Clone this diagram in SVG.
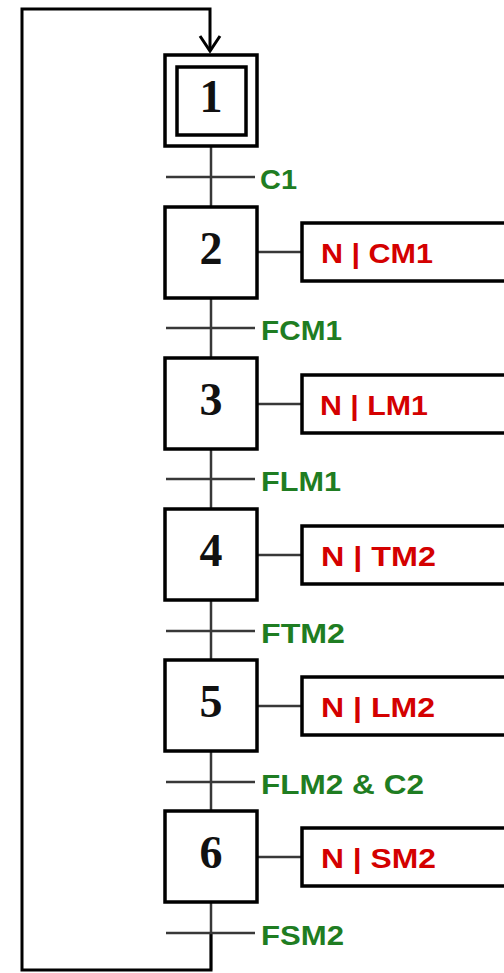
<svg xmlns="http://www.w3.org/2000/svg" width="504" height="973" viewBox="0 0 504 973">
  <style>
    .box { fill: #fff; stroke: #000; stroke-width: 3.5; }
    .num { font-family: "Liberation Serif", "Times New Roman", serif; font-weight: bold; font-size: 46px; text-anchor: middle; fill: #111; }
    .link { stroke: #383838; stroke-width: 2.5; fill: none; }
    .bar { stroke: #383838; stroke-width: 2.5; }
    .cond { font-family: "Liberation Sans", Arial, sans-serif; font-weight: bold; font-size: 27px; fill: #1f7d22; }
    .act { font-family: "Liberation Sans", Arial, sans-serif; font-weight: bold; font-size: 27px; fill: #d40000; }
    .loop { stroke: #000; stroke-width: 3; fill: none; }
    .head { stroke: #000; stroke-width: 3; fill: none; stroke-linejoin: miter; }
  </style>

  <!-- connectors: main chain, action links and return loop -->
  <g id="connectors">
    <line class="link" x1="211" y1="146" x2="211" y2="970"/>
    <line class="link" x1="257" y1="252" x2="302" y2="252"/>
    <line class="link" x1="257" y1="404" x2="302" y2="404"/>
    <line class="link" x1="257" y1="555" x2="302" y2="555"/>
    <line class="link" x1="257" y1="706" x2="302" y2="706"/>
    <line class="link" x1="257" y1="857" x2="302" y2="857"/>
    <path class="loop" d="M211 933 L211 970 L22 970 L22 9 L210 9 L210 51"/>
    <path class="head" d="M200 36 L210 51 L220 36"/>
  </g>

  <!-- initial step -->
  <g id="step1">
    <rect class="box" x="165" y="55" width="92" height="91"/>
    <rect class="box" x="177" y="67" width="69" height="68"/>
    <text class="num" x="211" y="112">1</text>
  </g>

  <g id="step2">
    <rect class="box" x="165" y="207" width="92" height="91"/>
    <text class="num" x="211" y="264">2</text>
  </g>
  <g id="step3">
    <rect class="box" x="165" y="358" width="92" height="91"/>
    <text class="num" x="211" y="415">3</text>
  </g>
  <g id="step4">
    <rect class="box" x="165" y="509" width="92" height="91"/>
    <text class="num" x="211" y="566">4</text>
  </g>
  <g id="step5">
    <rect class="box" x="165" y="660" width="92" height="91"/>
    <text class="num" x="211" y="717">5</text>
  </g>
  <g id="step6">
    <rect class="box" x="165" y="811" width="92" height="91"/>
    <text class="num" x="211" y="868">6</text>
  </g>

  <!-- actions -->
  <g id="action2">
    <rect class="box" x="302" y="223" width="220" height="58"/>
    <text class="act" x="321" y="263" textLength="112" lengthAdjust="spacingAndGlyphs">N | CM1</text>
  </g>
  <g id="action3">
    <rect class="box" x="302" y="375" width="220" height="58"/>
    <text class="act" x="320" y="415" textLength="108" lengthAdjust="spacingAndGlyphs">N | LM1</text>
  </g>
  <g id="action4">
    <rect class="box" x="302" y="526" width="220" height="58"/>
    <text class="act" x="321" y="566" textLength="115" lengthAdjust="spacingAndGlyphs">N | TM2</text>
  </g>
  <g id="action5">
    <rect class="box" x="302" y="677" width="220" height="58"/>
    <text class="act" x="321" y="717" textLength="114" lengthAdjust="spacingAndGlyphs">N | LM2</text>
  </g>
  <g id="action6">
    <rect class="box" x="302" y="828" width="220" height="58"/>
    <text class="act" x="321" y="868" textLength="115" lengthAdjust="spacingAndGlyphs">N | SM2</text>
  </g>

  <!-- transitions -->
  <g id="t1">
    <line class="bar" x1="166" y1="177" x2="255" y2="177"/>
    <text class="cond" x="260" y="189" textLength="37" lengthAdjust="spacingAndGlyphs">C1</text>
  </g>
  <g id="t2">
    <line class="bar" x1="166" y1="328" x2="255" y2="328"/>
    <text class="cond" x="261" y="340" textLength="81" lengthAdjust="spacingAndGlyphs">FCM1</text>
  </g>
  <g id="t3">
    <line class="bar" x1="166" y1="479" x2="255" y2="479"/>
    <text class="cond" x="261" y="491" textLength="80" lengthAdjust="spacingAndGlyphs">FLM1</text>
  </g>
  <g id="t4">
    <line class="bar" x1="166" y1="631" x2="255" y2="631"/>
    <text class="cond" x="261" y="643" textLength="84" lengthAdjust="spacingAndGlyphs">FTM2</text>
  </g>
  <g id="t5">
    <line class="bar" x1="166" y1="782" x2="255" y2="782"/>
    <text class="cond" x="261" y="794" textLength="163" lengthAdjust="spacingAndGlyphs">FLM2 &amp; C2</text>
  </g>
  <g id="t6">
    <line class="bar" x1="166" y1="933" x2="255" y2="933"/>
    <text class="cond" x="261" y="945" textLength="83" lengthAdjust="spacingAndGlyphs">FSM2</text>
  </g>
</svg>
